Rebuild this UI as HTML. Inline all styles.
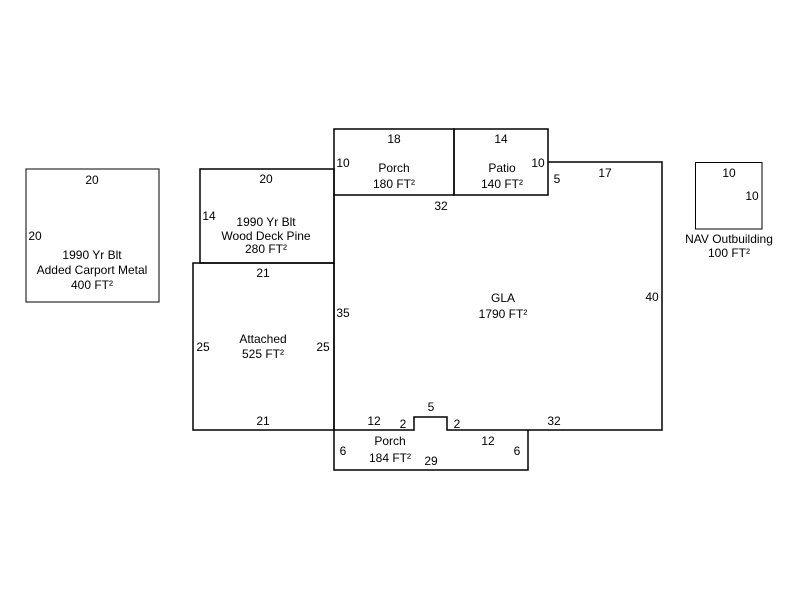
<!DOCTYPE html>
<html><head><meta charset="utf-8"><style>
html,body{margin:0;padding:0;background:#fff;width:800px;height:600px;overflow:hidden}
svg text{font-family:"Liberation Sans",Arial,sans-serif;font-size:12px;fill:#000}
</style></head><body>
<svg width="800" height="600" xmlns="http://www.w3.org/2000/svg">
<g fill="none" stroke="#000" stroke-width="1.5">
<rect x="26" y="169" width="133" height="133" stroke-width="1"/>
<rect x="200" y="169" width="134" height="94"/>
<rect x="193" y="263" width="141" height="167"/>
<rect x="334" y="129" width="120" height="66"/>
<rect x="454" y="129" width="94" height="66"/>
<path d="M334 195 V430 H414 V417 H447 V430 H662 V162 H548"/>
<path d="M334 430 V470 H528 V430"/>
<rect x="695.5" y="162.5" width="66.5" height="66.5" stroke-width="1"/>
</g>
<g text-anchor="middle">
<text x="92" y="184">20</text>
<text x="35" y="240">20</text>
<text x="92" y="259">1990 Yr Blt</text>
<text x="92" y="274">Added Carport Metal</text>
<text x="92" y="289">400 FT²</text>
<text x="266" y="183">20</text>
<text x="209" y="220">14</text>
<text x="266" y="226">1990 Yr Blt</text>
<text x="266" y="240">Wood Deck Pine</text>
<text x="266" y="253">280 FT²</text>
<text x="263" y="277">21</text>
<text x="203" y="351">25</text>
<text x="263" y="343">Attached</text>
<text x="263" y="358">525 FT²</text>
<text x="323" y="351">25</text>
<text x="263" y="425">21</text>
<text x="394" y="143">18</text>
<text x="343" y="167">10</text>
<text x="394" y="172">Porch</text>
<text x="394" y="188">180 FT²</text>
<text x="501" y="143">14</text>
<text x="502" y="172">Patio</text>
<text x="502" y="188">140 FT²</text>
<text x="538" y="167">10</text>
<text x="557" y="183">5</text>
<text x="605" y="177">17</text>
<text x="441" y="210">32</text>
<text x="503" y="302">GLA</text>
<text x="503" y="318">1790 FT²</text>
<text x="652" y="301">40</text>
<text x="343" y="317">35</text>
<text x="374" y="425">12</text>
<text x="403" y="428">2</text>
<text x="431" y="411">5</text>
<text x="457" y="428">2</text>
<text x="554" y="425">32</text>
<text x="343" y="455">6</text>
<text x="390" y="445">Porch</text>
<text x="390" y="462">184 FT²</text>
<text x="431" y="465">29</text>
<text x="488" y="445">12</text>
<text x="517" y="455">6</text>
<text x="729" y="177">10</text>
<text x="752" y="200">10</text>
<text x="729" y="243">NAV Outbuilding</text>
<text x="729" y="257">100 FT²</text>
</g>
</svg>
</body></html>
